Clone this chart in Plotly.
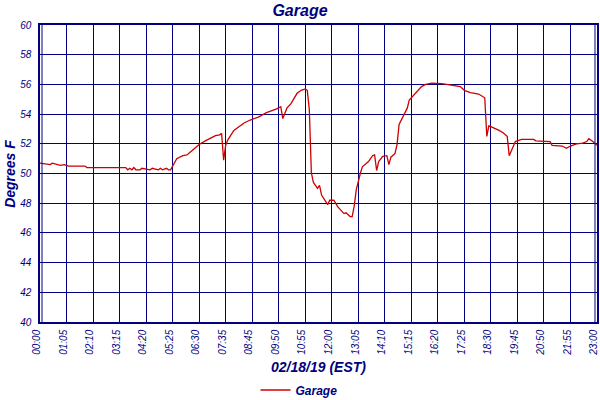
import plotly.graph_objects as go

# 5-minute sample index along the x axis and temperature (deg F)
sample = [0, 2, 5, 6, 8, 10, 12, 14, 22, 23, 42, 43, 44, 45, 46, 47, 49, 50, 52, 53,
          54, 55, 57, 58, 59, 60, 62, 63, 64, 65, 67, 70, 72, 75, 78, 81, 83, 86, 88, 89,
          90, 91, 92, 93, 95, 100, 103, 107, 111, 116, 118, 119, 121, 123, 126, 128, 130, 131, 132, 133,
          134, 136, 137, 138, 139, 141, 142, 144, 146, 149, 150, 152, 153, 154, 155, 156, 157, 158, 161, 163,
          164, 165, 166, 168, 170, 171, 172, 174, 175, 176, 178, 180, 181, 183, 185, 187, 189, 192, 197, 202,
          206, 208, 211, 215, 218, 219, 220, 221, 222, 225, 227, 229, 230, 232, 233, 236, 242, 243, 250, 251,
          256, 258, 260, 263, 266, 268, 269, 271, 273]
garage = [50.7, 50.65, 50.6, 50.7, 50.6, 50.55, 50.6, 50.5, 50.5, 50.4, 50.4, 50.25, 50.35, 50.25, 50.4, 50.25, 50.25, 50.35, 50.3, 50.3,
          50.25, 50.35, 50.3, 50.25, 50.35, 50.25, 50.35, 50.25, 50.25, 50.5, 51.0, 51.2, 51.25, 51.6, 51.95, 52.2, 52.35, 52.55, 52.6, 52.7,
          50.9, 51.9, 52.25, 52.5, 52.9, 53.4, 53.6, 53.8, 54.1, 54.35, 54.5, 53.7, 54.4, 54.7, 55.4, 55.6, 55.7, 55.6, 54.3, 50.05,
          49.4, 49.0, 49.2, 48.55, 48.35, 47.9, 48.2, 48.2, 47.75, 47.3, 47.35, 47.1, 47.1, 47.8, 48.9, 49.55, 50.0, 50.45, 50.8, 51.2,
          51.25, 50.2, 50.8, 51.15, 51.2, 50.6, 51.1, 51.35, 51.95, 53.3, 53.85, 54.4, 54.95, 55.25, 55.6, 55.85, 56.0, 56.08, 56.05, 55.95,
          55.85, 55.6, 55.45, 55.35, 55.1, 52.5, 53.2, 53.15, 53.1, 52.9, 52.75, 52.5, 51.2, 51.8, 52.15, 52.3, 52.3, 52.2, 52.15, 51.9,
          51.85, 51.7, 51.85, 52.0, 52.05, 52.15, 52.35, 52.15, 51.9]

tick_pos = [0, 13, 26, 39, 52, 65, 78, 91, 104, 117, 130, 143, 156, 169, 182, 195, 208, 221, 234, 247, 260, 273]
tick_labels = ["00:00", "01:05", "02:10", "03:15", "04:20", "05:25", "06:30", "07:35", "08:45", "09:50", "10:55",
               "12:00", "13:05", "14:10", "15:15", "16:20", "17:25", "18:30", "19:45", "20:50", "21:55", "23:00"]
y_ticks = [40, 42, 44, 46, 48, 50, 52, 54, 56, 58, 60]

NAVY = "#000080"
FONT = "Liberation Sans"

fig = go.Figure()
fig.add_trace(go.Scatter(x=sample, y=garage, mode="lines", name="Garage",
                         line=dict(color="#CC0000", width=1.3)))

fig.update_layout(
    width=600, height=400,
    margin=dict(l=40, r=3, t=25, b=78, autoexpand=False),
    paper_bgcolor="white", plot_bgcolor="white",
    title=dict(text="<b><i>Garage</i></b>", x=0.5, xanchor="center", y=0.975, yanchor="middle",
               font=dict(family=FONT, size=16, color=NAVY)),
    showlegend=True,
    legend=dict(orientation="h", x=0.465, xanchor="center", y=-0.229, yanchor="middle",
                font=dict(family=FONT, size=12, color=NAVY, style="italic", weight="bold"),
                itemwidth=30, bgcolor="rgba(0,0,0,0)"),
    xaxis=dict(range=[-0.02, 273.02], tickmode="array", tickvals=tick_pos, ticktext=tick_labels,
               tickangle=-90, tickfont=dict(family=FONT, size=10, color=NAVY, style="italic"),
               ticklabeloverflow="allow", ticklabelshift=-3, ticklabelstandoff=2,
               showgrid=True, gridcolor=NAVY, gridwidth=1.4, zeroline=False, automargin=False,
               showline=True, linecolor=NAVY, linewidth=1.5, mirror=True, ticks="", ticklen=0),
    yaxis=dict(range=[40, 60], tickmode="array", tickvals=y_ticks,
               tickfont=dict(family=FONT, size=10, color=NAVY, style="italic"),
               ticklabeloverflow="allow", ticklabelstandoff=5,
               showgrid=True, gridcolor=NAVY, gridwidth=1.4, zeroline=False, automargin=False,
               showline=True, linecolor=NAVY, linewidth=1.5, mirror=True, ticks=""),
)

fig.add_annotation(text="<b><i>02/18/19 (EST)</i></b>", xref="paper", yref="paper", x=0.5, y=-0.152,
                   showarrow=False, font=dict(family=FONT, size=14, color=NAVY), xanchor="center", yanchor="middle")
fig.add_annotation(text="<b><i>Degrees F</i></b>", xref="paper", yref="paper", x=-0.055, y=0.5,
                   showarrow=False, textangle=-90, font=dict(family=FONT, size=14, color=NAVY),
                   xanchor="center", yanchor="middle")
# double border lines at left and right edges
for xv in [0.0036, 0.9964]:
    fig.add_shape(type="line", xref="paper", yref="paper", x0=xv, x1=xv, y0=0, y1=1,
                  line=dict(color=NAVY, width=1))

fig.write_html("out.html", config={"displayModeBar": False},
               post_script="document.body.style.margin='0';")
